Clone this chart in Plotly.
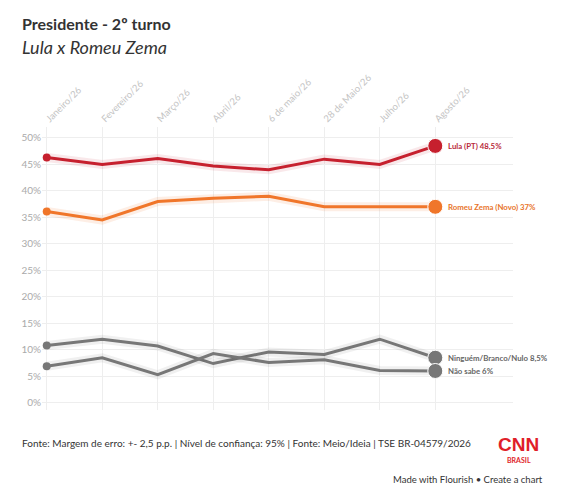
import plotly.graph_objects as go

meses = ["Janeiro/26", "Fevereiro/26", "Março/26", "Abril/26",
         "6 de maio/26", "28 de Maio/26", "Julho/26", "Agosto/26"]

lula = [46.3, 45.0, 46.1, 44.7, 44.0, 46.0, 45.0, 48.5]
zema = [36.1, 34.5, 38.0, 38.6, 39.0, 37.0, 37.0, 37.0]
ninguem = [10.8, 12.0, 10.7, 7.4, 9.6, 9.1, 12.0, 8.5]
nao_sabe = [6.9, 8.5, 5.3, 9.3, 7.6, 8.1, 6.1, 6.0]

y_ticks = list(range(0, 51, 5))
y_labels = [f"{v}%" for v in y_ticks]

series = [
    ("Lula (PT) 48,5%", lula, "#c6202e", "rgba(198,32,46,0.10)", "#b8283a"),
    ("Romeu Zema (Novo) 37%", zema, "#f0762a", "rgba(240,118,42,0.12)", "#e8742a"),
    ("Ninguém/Branco/Nulo 8,5%", ninguem, "#777777", "rgba(0,0,0,0.06)", "#666666"),
    ("Não sabe 6%", nao_sabe, "#777777", "rgba(0,0,0,0.06)", "#666666"),
]

FONT = "Lato, Open Sans, sans-serif"
x = list(range(len(meses)))

fig = go.Figure()
for nome, vals, cor, halo, cor_txt in series:
    # halo
    fig.add_trace(go.Scatter(x=x, y=vals, mode="lines",
                             line=dict(color=halo, width=9), hoverinfo="skip"))
    fig.add_trace(go.Scatter(x=x, y=vals, mode="lines", name=nome,
                             line=dict(color=cor, width=3)))
    # primeiro e ultimo ponto
    fig.add_trace(go.Scatter(x=[x[0]], y=[vals[0]], mode="markers",
                             marker=dict(color=cor, size=8), hoverinfo="skip"))
    fig.add_trace(go.Scatter(x=[x[-1]], y=[vals[-1]], mode="markers",
                             marker=dict(color=cor, size=15,
                                         line=dict(color="white", width=1)),
                             hoverinfo="skip"))
    fig.add_annotation(x=x[-1], y=vals[-1], text="<b>" + nome + "</b>",
                       xanchor="left", xshift=11, showarrow=False,
                       font=dict(family=FONT, size=7.8, color=cor_txt))

# body do html tem margem de 8px, por isso as margens compensam
fig.update_layout(
    width=568, height=500,
    margin=dict(l=34, r=63, t=119, b=98),
    paper_bgcolor="white", plot_bgcolor="white",
    showlegend=False,
    font=dict(family=FONT),
    xaxis=dict(range=[-0.085, 8.4], tickvals=x, ticktext=meses, side="top",
               tickangle=-45, showgrid=True, gridcolor="#eeeeee",
               zeroline=False, showline=False, ticks="", automargin=False,
               tickfont=dict(size=9.5, color="#c4c4c4")),
    yaxis=dict(range=[-1.37, 52.07], tickvals=y_ticks, ticktext=y_labels,
               showgrid=True, gridcolor="#eeeeee",
               zeroline=False, showline=False, ticks="", automargin=False,
               tickfont=dict(size=10, color="#aaaaaa")),
)

fig.add_annotation(xref="paper", yref="paper", x=-0.047, y=1.364,
                   text="<b>Presidente - 2º turno</b>", showarrow=False,
                   xanchor="left", yanchor="middle",
                   font=dict(family=FONT, size=16, color="#333333"))
fig.add_annotation(xref="paper", yref="paper", x=-0.047, y=1.283,
                   text="<i>Lula x Romeu Zema</i>", showarrow=False,
                   xanchor="left", yanchor="middle",
                   font=dict(family=FONT, size=18, color="#333333"))
fig.add_annotation(xref="paper", yref="paper", x=-0.047, y=-0.117,
                   text="Fonte: Margem de erro: +- 2,5 p.p. | Nível de confiança: 95% | Fonte: Meio/Ideia | TSE BR-04579/2026",
                   showarrow=False, xanchor="left", yanchor="middle",
                   font=dict(family=FONT, size=10, color="#333333"))
fig.add_annotation(xref="paper", yref="paper", x=1.012, y=-0.122,
                   text="<b>CNN</b>", showarrow=False, xanchor="center",
                   yanchor="middle",
                   font=dict(family="Liberation Sans Narrow, Arial", size=19,
                             color="#e01e2a"))
fig.add_annotation(xref="paper", yref="paper", x=1.012, y=-0.177,
                   text="<b>BRASIL</b>", showarrow=False, xanchor="center",
                   yanchor="middle",
                   font=dict(family=FONT, size=7, color="#e01e2a"))
fig.add_annotation(xref="paper", yref="paper", x=1.068, y=-0.247,
                   text="Made with Flourish • Create a chart", showarrow=False,
                   xanchor="right", yanchor="middle",
                   font=dict(family=FONT, size=9.5, color="#333333"))

fig.write_html("out.html")
